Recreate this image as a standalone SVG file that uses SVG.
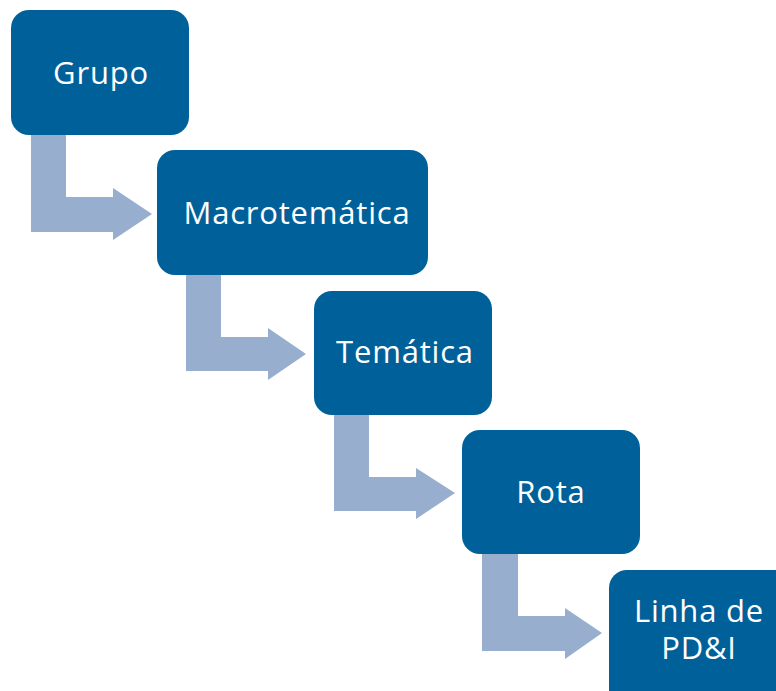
<svg xmlns="http://www.w3.org/2000/svg" width="776" height="691" viewBox="0 0 776 691">
<style>
.box{fill:#00619A}
.arr{fill:#98AECE}
.t{fill:#fff;font-family:"Open Sans","Noto Sans",sans-serif;font-size:31px;letter-spacing:0.8px;text-anchor:middle}
</style>
<rect width="776" height="691" fill="#fff"/>
<g id="connectors">
<polygon class="arr" points="31,130 66,130 66,197 113,197 113,188 152,214 113,240 113,232 31,232"/>
<polygon class="arr" points="186,270 221,270 221,337 268,337 268,328 306,354 268,380 268,371 186,371"/>
<polygon class="arr" points="334,410 369,410 369,477 416,477 416,468 455,493 416,519 416,511 334,511"/>
<polygon class="arr" points="482,549 518,549 518,616 565,616 565,608 602,633 565,659 565,651 482,651"/>
</g>
<g id="grupo"><rect class="box" x="11" y="10" width="178" height="125" rx="18"/><text class="t" x="101" y="84">Grupo</text></g>
<g id="macro"><rect class="box" x="157" y="150" width="271" height="125" rx="18"/><text class="t" x="297" y="224">Macrotemática</text></g>
<g id="tematica"><rect class="box" x="314" y="291" width="178" height="124" rx="18"/><text class="t" x="405" y="363">Temática</text></g>
<g id="rota"><rect class="box" x="462" y="430" width="178" height="124" rx="18"/><text class="t" x="551" y="503">Rota</text></g>
<g id="linha"><rect class="box" x="609" y="570" width="190" height="140" rx="18"/><text class="t" x="699" y="622">Linha de</text><text class="t" x="699" y="659">PD&amp;I</text></g>
</svg>
